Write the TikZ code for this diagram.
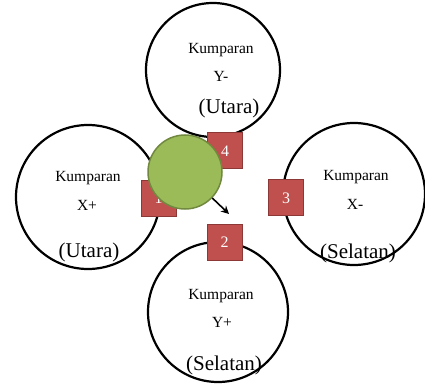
\documentclass[tikz,border=0pt]{standalone}
\usepackage{fontspec}
\setmainfont{Liberation Serif}
\usetikzlibrary{arrows.meta}
\definecolor{boxred}{HTML}{C0504D}
\definecolor{boxredline}{HTML}{8C3836}
\definecolor{ballgreen}{HTML}{9BBB59}
\definecolor{ballgreenline}{HTML}{71893F}
\begin{document}
\begin{tikzpicture}[x=1pt,y=-1pt,
  coil/.style={circle, draw=black, line width=2.2pt, fill=white, minimum size=#1, inner sep=0pt},
  kum/.style={font=\fontsize{15.5}{18}\selectfont, inner sep=0pt},
  paren/.style={font=\fontsize{21}{25}\selectfont, inner sep=0pt},
  numbox/.style={rectangle, fill=boxred, draw=boxredline, line width=1pt, minimum width=35pt, minimum height=36pt, text=white, font=\fontsize{16}{18}\selectfont, inner sep=0pt},
  ball/.style={circle, fill=ballgreen, draw=ballgreenline, line width=1.5pt, minimum size=74pt, inner sep=0pt},
  pointer/.style={-{Stealth[length=8pt,width=8pt]}, line width=1.6pt, black}
]
\useasboundingbox (0,0) rectangle (425,387);
% coils
\node[coil=134pt] (top) at (213,70) {};
\node[coil=144pt] (left) at (88,197) {};
\node[coil=142pt] (right) at (354,194) {};
\node[coil=140pt] (bottom) at (218,312) {};
% texts
\node[kum] (t1) at (221,50) {Kumparan};
\node[kum] (t2) at (221,76) {Y-};
\node[paren] (t3) at (229,108) {(Utara)};
\node[kum] (l1) at (88,178) {Kumparan};
\node[kum] (l2) at (87,205) {X+};
\node[paren] (l3) at (89,252) {(Utara)};
\node[kum] (r1) at (356,177) {Kumparan};
\node[kum] (r2) at (355,204) {X-};
\node[paren] (r3) at (358,253) {(Selatan)};
\node[kum] (b1) at (221,296) {Kumparan};
\node[kum] (b2) at (222,322) {Y+};
\node[paren] (b3) at (224,365) {(Selatan)};
% number boxes
\node[numbox] (n4) at (225,151) {4};
\node[numbox] (n3) at (286,198) {3};
\node[numbox] (n2) at (224.5,242) {2};
\node[numbox] (n1) at (158.5,198.5) {1};
% ball and arrow
\node[ball] (ball) at (185,172) {};
\coordinate (arrowend) at (229,214);
\draw[pointer] (ball) -- (arrowend);
\end{tikzpicture}
\end{document}
